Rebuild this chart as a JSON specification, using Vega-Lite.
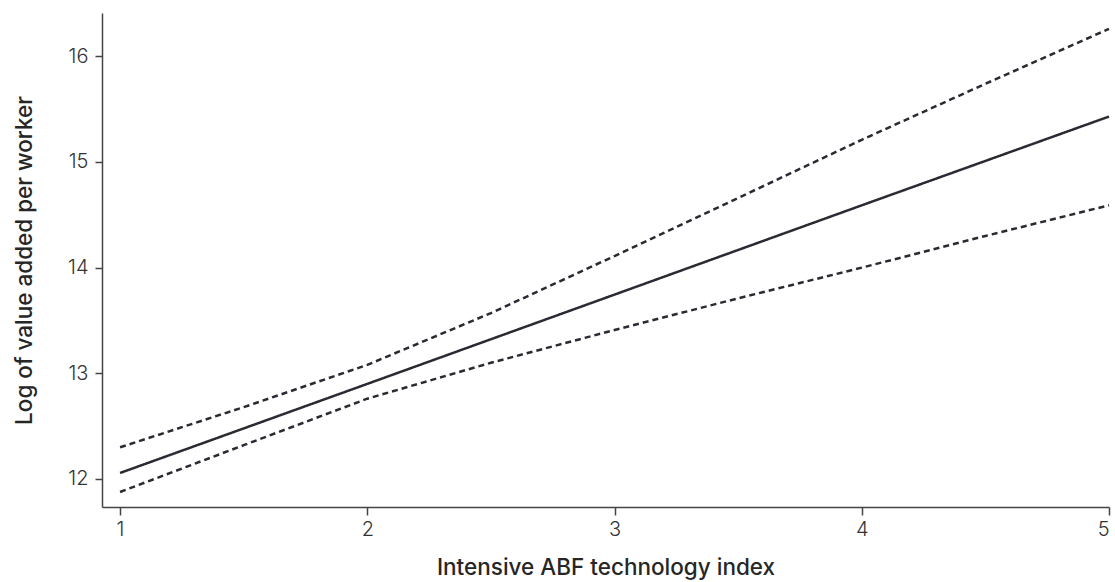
{
  "$schema": "https://vega.github.io/schema/vega-lite/v6.json",
  "width": 1007,
  "height": 494,
  "autosize": {"type": "none"},
  "padding": {"left": 102, "top": 13, "right": 6, "bottom": 75},
  "background": "white",
  "config": {
    "view": {"stroke": null},
    "font": "Inter"
  },
  "data": {
    "values": [
      {"x": 1, "y": 12.057, "s": "fit"},
      {"x": 2, "y": 12.90, "s": "fit"},
      {"x": 3, "y": 13.745, "s": "fit"},
      {"x": 4, "y": 14.59, "s": "fit"},
      {"x": 5, "y": 15.43, "s": "fit"},
      {"x": 1, "y": 12.30, "s": "upper"},
      {"x": 1.5, "y": 12.68, "s": "upper"},
      {"x": 2, "y": 13.08, "s": "upper"},
      {"x": 2.5, "y": 13.57, "s": "upper"},
      {"x": 3, "y": 14.11, "s": "upper"},
      {"x": 3.5, "y": 14.66, "s": "upper"},
      {"x": 4, "y": 15.21, "s": "upper"},
      {"x": 4.5, "y": 15.74, "s": "upper"},
      {"x": 5, "y": 16.26, "s": "upper"},
      {"x": 1, "y": 11.877, "s": "lower"},
      {"x": 1.5, "y": 12.32, "s": "lower"},
      {"x": 2, "y": 12.76, "s": "lower"},
      {"x": 2.5, "y": 13.10, "s": "lower"},
      {"x": 3, "y": 13.41, "s": "lower"},
      {"x": 3.5, "y": 13.71, "s": "lower"},
      {"x": 4, "y": 14.00, "s": "lower"},
      {"x": 4.5, "y": 14.30, "s": "lower"},
      {"x": 5, "y": 14.59, "s": "lower"}
    ]
  },
  "mark": {"type": "line", "color": "#2a2a33", "strokeWidth": 2.5},
  "encoding": {
    "x": {
      "field": "x",
      "type": "quantitative",
      "scale": {"domain": [0.927, 5], "nice": false, "zero": false},
      "axis": {
        "title": "Intensive ABF technology index",
        "values": [1, 2, 3, 4, 5],
        "format": "d",
        "grid": false,
        "domainColor": "#444444",
        "domainWidth": 1.5,
        "tickColor": "#444444",
        "tickSize": 8,
        "tickWidth": 1.5,
        "labelFontSize": 20,
        "labelColor": "#333333",
        "labelPadding": 4,
        "labelFont": "Inter",
        "labelFontWeight": 300,
        "titleFont": "Inter",
        "titleFontSize": 22.5,
        "titleFontWeight": 500,
        "titleColor": "#262626",
        "titlePadding": 17
      }
    },
    "y": {
      "field": "y",
      "type": "quantitative",
      "scale": {"domain": [11.735, 16.41], "nice": false, "zero": false},
      "axis": {
        "title": "Log of value added per worker",
        "values": [12, 13, 14, 15, 16],
        "format": "d",
        "grid": false,
        "domainColor": "#444444",
        "domainWidth": 1.5,
        "tickColor": "#444444",
        "tickSize": 7,
        "tickWidth": 1.5,
        "labelFontSize": 20,
        "labelColor": "#333333",
        "labelPadding": 7,
        "labelFont": "Inter",
        "labelFontWeight": 300,
        "titleFont": "Inter",
        "titleFontSize": 22.5,
        "titleFontWeight": 500,
        "titleColor": "#262626",
        "titlePadding": 31
      }
    },
    "detail": {"field": "s"},
    "strokeDash": {
      "field": "s",
      "type": "nominal",
      "scale": {"domain": ["fit", "upper", "lower"], "range": [[1, 0], [6, 4], [6, 4]]},
      "legend": null
    }
  }
}
